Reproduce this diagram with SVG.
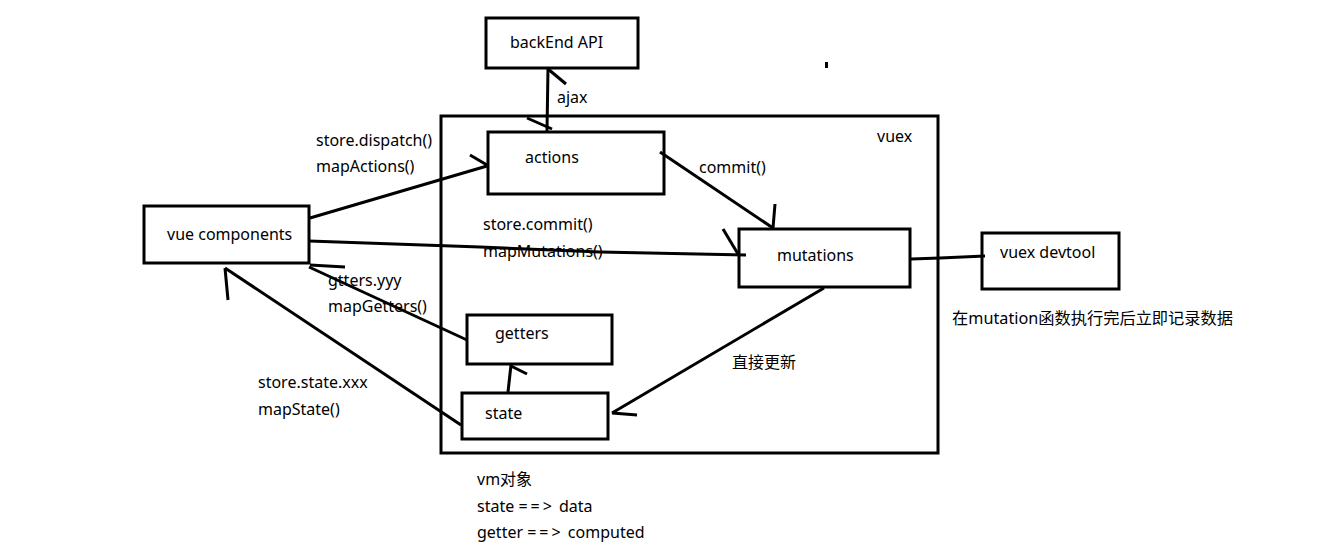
<svg xmlns="http://www.w3.org/2000/svg" width="1323" height="559" viewBox="0 0 1323 559">
<style>
.box{fill:none;stroke:#000;stroke-width:3}
.ln{fill:none;stroke:#000;stroke-width:3;stroke-linecap:butt}
text{font-family:"Noto Sans","Noto Sans CJK SC",sans-serif;font-size:16px;fill:#000}
.sp{letter-spacing:3px}
</style>
<rect x="0" y="0" width="1323" height="559" fill="#fff"/>
<g id="vuex">
<rect class="box" x="441" y="116" width="497" height="337"/>
<text x="877" y="142">vuex</text>
</g>
<g id="backend">
<rect class="box" x="486" y="18" width="152" height="50"/>
<text x="510" y="48">backEnd API</text>
</g>
<g id="actions">
<rect class="box" x="488" y="132" width="176" height="62"/>
<text x="525" y="163">actions</text>
</g>
<g id="vue-components">
<rect class="box" x="144" y="206" width="165" height="57"/>
<text x="167" y="240">vue components</text>
</g>
<g id="mutations">
<rect class="box" x="739" y="229" width="171" height="58"/>
<text x="777" y="261">mutations</text>
</g>
<g id="getters">
<rect class="box" x="467" y="315" width="145" height="49"/>
<text x="495" y="339">getters</text>
</g>
<g id="state">
<rect class="box" x="462" y="393" width="146" height="46"/>
<text x="485" y="419">state</text>
</g>
<g id="devtool">
<rect class="box" x="982" y="233" width="137" height="56"/>
<text x="1000" y="258">vuex devtool</text>
<text x="952" y="324" textLength="281" lengthAdjust="spacingAndGlyphs">在mutation函数执行完后立即记录数据</text>
</g>
<g id="connectors">
<polyline class="ln" points="548,68 547,131"/>
<line class="ln" x1="548" y1="69" x2="566" y2="84"/>
<line class="ln" x1="527" y1="118" x2="552" y2="129"/>
<line class="ln" x1="310" y1="218" x2="487" y2="166"/>
<line class="ln" x1="470" y1="155" x2="487" y2="165"/>
<line class="ln" x1="660" y1="152" x2="773" y2="228"/>
<line class="ln" x1="775" y1="204" x2="773" y2="228"/>
<polyline class="ln" points="309,241 480,247 600,252 746,255"/>
<line class="ln" x1="723" y1="229" x2="738" y2="254"/>
<polyline class="ln" points="911,259 940,258 985,256"/>
<line class="ln" x1="824" y1="288" x2="612" y2="413"/>
<line class="ln" x1="612" y1="413" x2="637" y2="415"/>
<line class="ln" x1="508" y1="392" x2="511" y2="365"/>
<line class="ln" x1="511" y1="366" x2="527" y2="374"/>
<line class="ln" x1="467" y1="340" x2="309" y2="267"/>
<line class="ln" x1="310" y1="265" x2="345" y2="267"/>
<line class="ln" x1="461" y1="425" x2="225" y2="268"/>
<line class="ln" x1="225" y1="268" x2="228" y2="300"/>
<rect x="825" y="62" width="3" height="6" fill="#000"/>
</g>
<g id="labels">
<text x="557" y="103">ajax</text>
<text x="316" y="146">store.dispatch()</text>
<text x="316" y="172">mapActions()</text>
<text x="699" y="173">commit()</text>
<text x="483" y="230">store.commit()</text>
<text x="483" y="257">mapMutations()</text>
<text x="328" y="286">gtters.yyy</text>
<text x="328" y="312">mapGetters()</text>
<text x="258" y="388">store.state.xxx</text>
<text x="258" y="415">mapState()</text>
<text x="732" y="368">直接更新</text>
<text x="477" y="485">vm对象</text>
<text x="477" y="512">state <tspan class="sp">==&gt;</tspan> data</text>
<text x="477" y="538">getter <tspan class="sp">==&gt;</tspan> computed</text>
</g>
</svg>
